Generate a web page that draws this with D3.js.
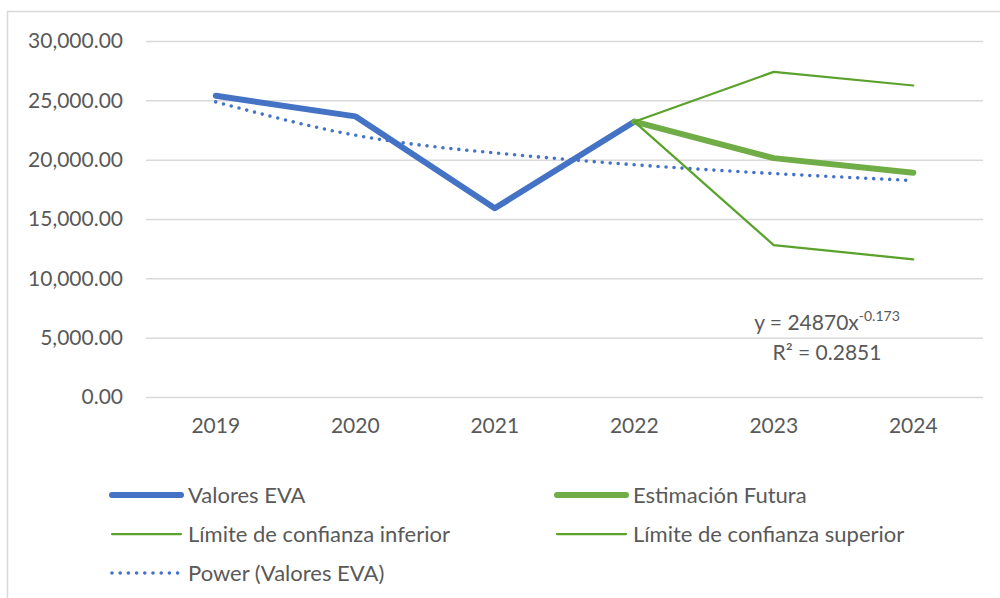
<!DOCTYPE html>
<html lang="es">

<head>
    <meta charset="UTF-8">
    <title>Valores EVA</title>
    <script src="https://d3js.org/d3.v7.min.js"></script>
    <style>
        body { margin: 0; background: #fff; }
        text { font-family: Lato, "Open Sans", sans-serif; fill: #595959; }
    </style>
</head>

<body>
    <script>
        // data
        var years = ["2019", "2020", "2021", "2022", "2023", "2024"];
        var evaValues = [25380, 23650, 15900, 23200, null, null];
        var estimacion = [null, null, null, 23200, 20130, 18900];
        var limiteInferior = [null, null, null, 23200, 12800, 11600];
        var limiteSuperior = [null, null, null, 23200, 27400, 26250];
        var trendValues = [24870, 22060, 20570, 19570, 18830, 18240];
        var yTicks = [0, 5000, 10000, 15000, 20000, 25000, 30000];

        var width = 1000, height = 598;
        var plotLeft = 146, plotRight = 983, plotTop = 41, plotBottom = 397;

        var svg = d3.select("body").append("svg")
            .attr("width", width)
            .attr("height", height);

        // chart border
        svg.append("rect")
            .attr("x", 7.5).attr("y", 11.5)
            .attr("width", 1000).attr("height", 600)
            .attr("fill", "none")
            .attr("stroke", "#d9d9d9")
            .attr("stroke-width", 1.5);

        var x = d3.scaleBand().domain(years).range([plotLeft, plotRight]);
        var y = d3.scaleLinear().domain([0, 30000]).range([plotBottom, plotTop]);
        var fmt = d3.format(",.2f");

        var yAxis = svg.append("g")
            .attr("transform", "translate(" + plotLeft + ",0)")
            .call(d3.axisLeft(y).tickValues(yTicks).tickSize(-(plotRight - plotLeft)).tickPadding(23).tickFormat(fmt));
        yAxis.select(".domain").remove();
        yAxis.selectAll("line").attr("stroke", "#d9d9d9").attr("stroke-width", 1.5);
        yAxis.selectAll("text").style("font-size", "21px").attr("fill", "#595959");

        var xAxis = svg.append("g")
            .attr("transform", "translate(0," + plotBottom + ")")
            .call(d3.axisBottom(x).tickSize(0).tickPadding(21));
        xAxis.select(".domain").remove();
        xAxis.selectAll("text").style("font-size", "21px").attr("fill", "#595959");

        function cx(i) { return x(years[i]) + x.bandwidth() / 2; }

        var line = d3.line()
            .defined(function (d) { return d != null; })
            .x(function (d, i) { return cx(i); })
            .y(function (d) { return y(d); });

        var series = [
            { name: "Valores EVA", values: evaValues, color: "#4472C4", w: 6 },
            { name: "Estimación Futura", values: estimacion, color: "#70AD47", w: 6 },
            { name: "Límite de confianza inferior", values: limiteInferior, color: "#5BA22C", w: 2.25 },
            { name: "Límite de confianza superior", values: limiteSuperior, color: "#5BA22C", w: 2.25 }
        ];

        // trend line (power)
        svg.append("path")
            .attr("d", d3.line().curve(d3.curveNatural)
                .x(function (d, i) { return cx(i); })
                .y(function (d) { return y(d); })(trendValues))
            .attr("fill", "none")
            .attr("stroke", "#4472C4")
            .attr("stroke-width", 3.6)
            .attr("stroke-linecap", "round")
            .attr("stroke-dasharray", "0 8");

        series.forEach(function (s) {
            svg.append("path")
                .attr("d", line(s.values))
                .attr("fill", "none")
                .attr("stroke", s.color)
                .attr("stroke-width", s.w)
                .attr("stroke-linejoin", "round")
                .attr("stroke-linecap", "round");
        });

        // trend equation
        var eq = svg.append("text")
            .attr("x", 827).attr("y", 330)
            .attr("text-anchor", "middle")
            .style("font-size", "21px");
        eq.append("tspan").text("y = 24870x");
        eq.append("tspan").attr("dy", -9).style("font-size", "14px").text("-0.173");
        svg.append("text")
            .attr("x", 827).attr("y", 360)
            .attr("text-anchor", "middle")
            .style("font-size", "21px")
            .text("R² = 0.2851");

        // legend
        var legend = [
            { name: "Valores EVA", color: "#4472C4", w: 6, col: 0, row: 0 },
            { name: "Estimación Futura", color: "#70AD47", w: 6, col: 1, row: 0 },
            { name: "Límite de confianza inferior", color: "#5BA22C", w: 2.25, col: 0, row: 1 },
            { name: "Límite de confianza superior", color: "#5BA22C", w: 2.25, col: 1, row: 1 },
            { name: "Power (Valores EVA)", color: "#4472C4", w: 3.6, col: 0, row: 2, dots: true }
        ];
        var colX = [111, 556];
        var rowY = [495, 534, 573];

        var lg = svg.selectAll(".legend")
            .data(legend)
            .enter()
            .append("g")
            .attr("class", "legend")
            .attr("transform", function (d) {
                return "translate(" + colX[d.col] + "," + rowY[d.row] + ")";
            });
        lg.append("line")
            .attr("x1", 1).attr("x2", 70)
            .attr("stroke", function (d) { return d.color; })
            .attr("stroke-width", function (d) { return d.w; })
            .attr("stroke-linecap", "round")
            .attr("stroke-dasharray", function (d) { return d.dots ? "0 8.2" : null; });
        lg.append("text")
            .attr("x", 77).attr("y", 7.5)
            .style("font-size", "22px")
            .text(function (d) { return d.name; });
    </script>
</body>

</html>
